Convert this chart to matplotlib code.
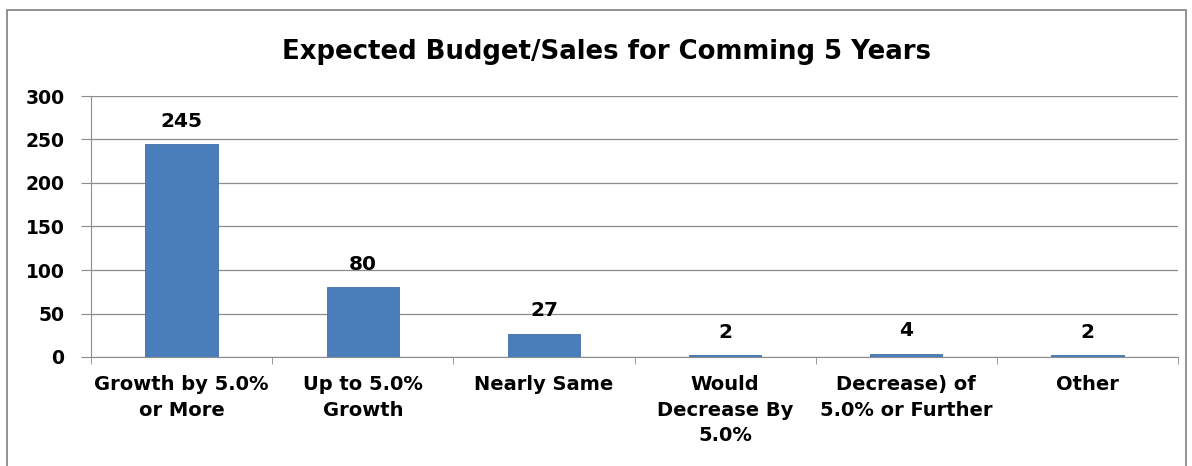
import matplotlib
matplotlib.use("Agg")
import matplotlib.pyplot as plt
from matplotlib.patches import Rectangle
import numpy as np

categories = ["Growth by 5.0%\nor More", "Up to 5.0%\nGrowth", "Nearly Same",
              "Would\nDecrease By\n5.0%", "Decrease) of\n5.0% or Further", "Other"]
values = [245, 80, 27, 2, 4, 2]
yticks = [0, 50, 100, 150, 200, 250, 300]
title = "Expected Budget/Sales for Comming 5 Years"

plt.rcParams['font.family'] = ['DejaVu Sans']

fig = plt.figure(figsize=(11.92, 4.66), dpi=100)
fig.patches.append(Rectangle((7/1192, -0.01), (1186-7)/1192, 1 - 10/466 + 0.01,
                             transform=fig.transFigure, fill=False,
                             edgecolor="#808080", linewidth=1.2))
ax = fig.add_axes([91/1192, 1-357/466, (1178-91)/1192, (357-96)/466])

x = np.arange(len(categories))
ax.bar(x, values, width=0.4, color="#4a7ebb", edgecolor="#3f6fa8", linewidth=0.6, zorder=3)
for xi, v in zip(x, values):
    ax.text(xi, v + 15, str(v), ha="center", va="bottom", fontsize=14.5,
            fontweight="bold", color="#000000")

ax.set_xlim(-0.5, len(categories) - 0.5)
ax.set_ylim(0, 300)
ax.set_yticks(yticks)
ax.set_yticklabels([str(t) for t in yticks], fontsize=13.5, fontweight="bold")
ax.yaxis.grid(True, color="#8c8c8c", linewidth=0.9, zorder=0)
ax.set_axisbelow(True)

ax.set_xticks(x)
ax.set_xticklabels(categories, fontsize=14, fontweight="bold", linespacing=1.43)
ax.tick_params(axis="x", which="major", length=0, pad=13)
ax.set_xticks(np.arange(len(categories) + 1) - 0.5, minor=True)
ax.tick_params(axis="x", which="minor", length=5, color="#8c8c8c", direction="out")
ax.tick_params(axis="y", length=7, color="#8c8c8c", pad=12)

for s in ["top", "right"]:
    ax.spines[s].set_visible(False)
ax.spines["left"].set_color("#8c8c8c")
ax.spines["bottom"].set_color("#8c8c8c")

fig.text(607/1192, 1-52/466, title, ha="center", va="center", fontsize=18.7,
         fontweight="bold", color="#000000")

fig.savefig("out.png", dpi=100)
